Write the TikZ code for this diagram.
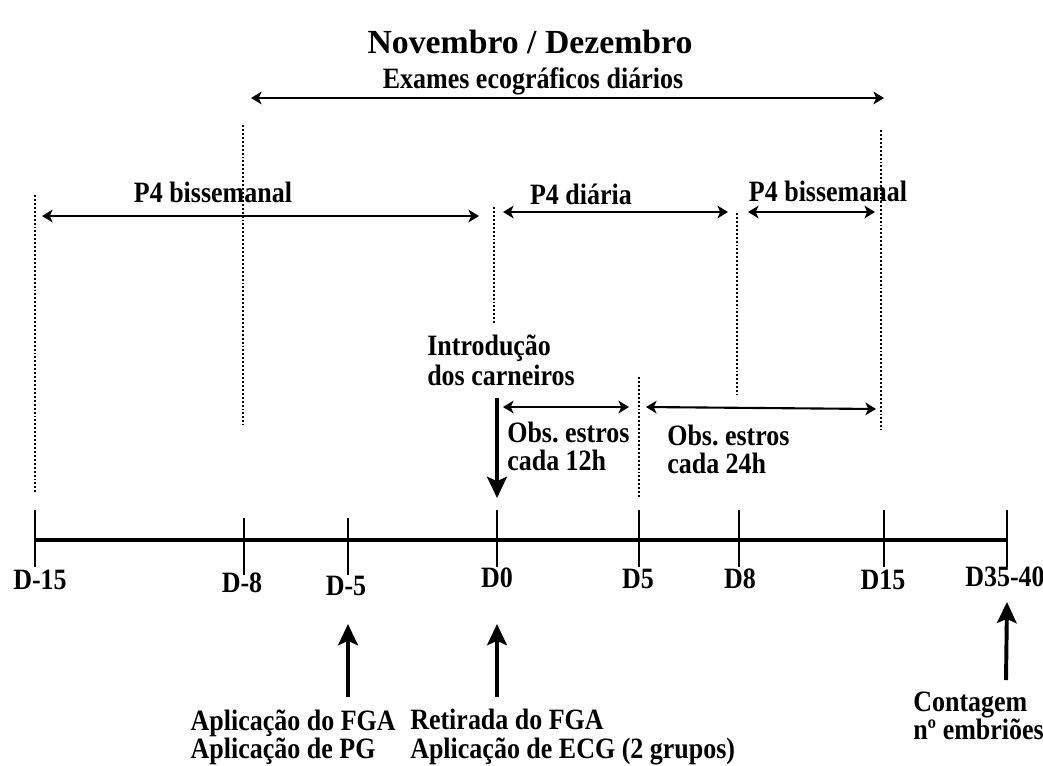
\documentclass[tikz,border=0pt]{standalone}
\usepackage{fontspec}
\setmainfont{Liberation Serif}[FakeStretch=0.88]
\newfontfamily\titlefont{Liberation Serif}
\usetikzlibrary{arrows.meta}

\begin{document}
\begin{tikzpicture}[x=0.025cm, y=-0.025cm,
    every node/.style={font=\bfseries\fontsize{21}{21.5}\selectfont, inner sep=0pt},
    twoline/.style={align=left, font=\bfseries\fontsize{21}{20}\selectfont},
    span/.style={{Stealth[length=7.5pt,width=9pt,inset=2pt]}-{Stealth[length=7.5pt,width=9pt,inset=2pt]}, line width=1.5pt},
    guide/.style={line width=1.6pt, dash pattern=on 1.4pt off 1.4pt},
    bigarrow/.style={-{Stealth[length=15pt,width=14pt,inset=3pt]}, line width=2.8pt},
    daytick/.style={line width=1.5pt}]
  \useasboundingbox (0,0) rectangle (1043,765);

  % Timeline and days
  \coordinate (dm15) at (35,540);
  \coordinate (dm8) at (244,540);
  \coordinate (dm5) at (348,540);
  \coordinate (d0) at (497,540);
  \coordinate (d5) at (639,540);
  \coordinate (d8) at (739,540);
  \coordinate (d15) at (884,540);
  \coordinate (d35) at (1007,540);
  \draw[line width=3.5pt] (dm15) -- (d35);
  \foreach \c in {dm15,d0,d5,d8,d15,d35}
    \draw[daytick] (\c) ++(0,-30) -- ++(0,57);
  \foreach \c in {dm8,dm5}
    \draw[daytick] (\c) ++(0,-22) -- ++(0,57);
  \node (lm15) at (40,580) {D-15};
  \node (lm8) at (242,583) {D-8};
  \node (lm5) at (346,586) {D-5};
  \node (l0) at (497,578) {D0};
  \node (l5) at (638,579) {D5};
  \node (l8) at (740,579) {D8};
  \node (l15) at (883,580) {D15};
  \node (l35) at (1005,577) {D35-40};

  % Dotted guides
  \draw[guide] (dm15) ++(0,-345) -- ++(0,297);
  \draw[guide] (dm8) ++(-1,-415) -- ++(0,300);
  \draw[guide] (d0) ++(-3,-333) -- ++(0,118);
  \draw[guide] (d5) ++(0,-163) -- ++(0,120);
  \draw[guide] (d8) ++(-2,-327) -- ++(0,182);
  \draw[guide] (d15) ++(-3,-410) -- ++(0,300);

  % Title and spans
  \node[font=\titlefont\bfseries\fontsize{24}{28}\selectfont] (title) at (530,42) {Novembro / Dezembro};
  \coordinate (ex-l) at (251,98);
  \coordinate (ex-r) at (884,98);
  \draw[span] (ex-l) -- (ex-r);
  \node (exames) at (533,81) {Exames ecográficos diários};

  \coordinate (p4a-l) at (42,216);
  \coordinate (p4a-r) at (479,216);
  \draw[span] (p4a-l) -- (p4a-r);
  \node (p4a) at (213,192) {P4 bissemanal};

  \coordinate (p4d-l) at (503,212);
  \coordinate (p4d-r) at (728,212);
  \draw[span] (p4d-l) -- (p4d-r);
  \node (p4d) at (581,194) {P4 diária};

  \coordinate (p4b-l) at (748,212);
  \coordinate (p4b-r) at (875,212);
  \draw[span] (p4b-l) -- (p4b-r);
  \node (p4b) at (828,191) {P4 bissemanal};

  % Ram introduction and oestrus observation
  \node[anchor=west, align=left] (intro) at (427,360) {Introdução\\dos carneiros};
  \coordinate (intro-top) at (497,398);
  \draw[bigarrow] (intro-top) -- (d0 |- 0,498);

  \coordinate (o12-l) at (503,407);
  \coordinate (o12-r) at (629,407);
  \draw[span] (o12-l) -- (o12-r);
  \node[twoline, anchor=west] (o12) at (507,446) {Obs.\ estros\\cada 12h};

  \coordinate (o24-l) at (646,407);
  \coordinate (o24-r) at (876,409);
  \draw[span] (o24-l) -- (o24-r);
  \node[twoline, anchor=west] (o24) at (667,449) {Obs.\ estros\\cada 24h};

  % Treatments
  \coordinate (fga-bot) at (348,697);
  \draw[bigarrow] (fga-bot) -- (dm5 |- 0,624);
  \coordinate (ret-bot) at (497,697);
  \draw[bigarrow] (ret-bot) -- (d0 |- 0,624);
  \coordinate (cnt-bot) at (1006,680);
  \draw[bigarrow] (cnt-bot) -- (d35 |- 0,602);

  \node[twoline, anchor=east] (fga) at (396,737) {Aplicação do FGA\\Aplicação de PG};
  \node[twoline, anchor=west] (ret) at (410,737) {Retirada do FGA\\Aplicação de ECG (2 grupos)};
  \node[twoline, anchor=west, font=\bfseries\fontsize{21}{18.5}\selectfont] (cnt) at (913,716) {Contagem\\nº embriões};
\end{tikzpicture}
\end{document}
